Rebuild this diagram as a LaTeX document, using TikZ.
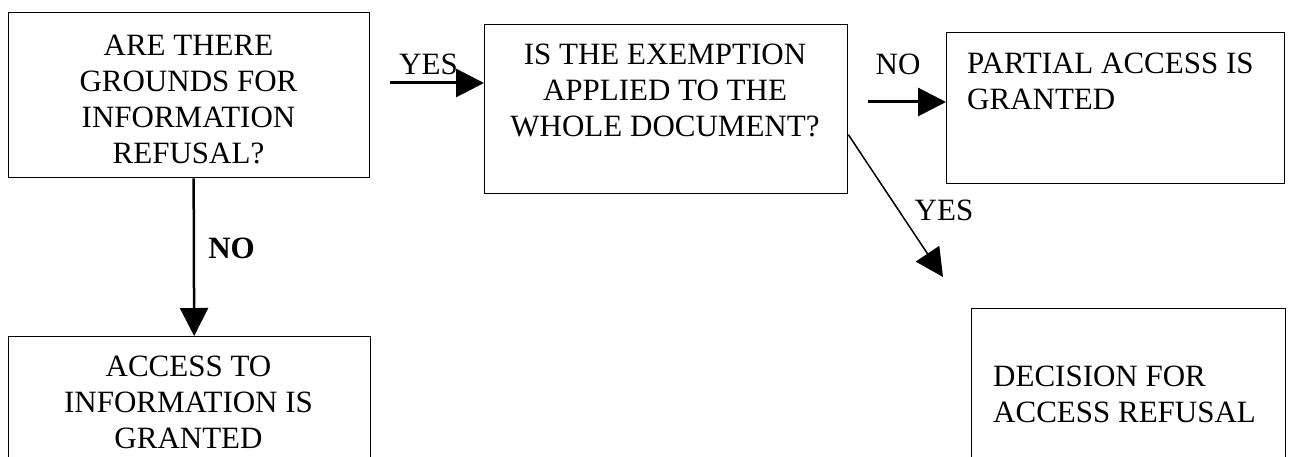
\documentclass[tikz,border=0pt]{standalone}
\usepackage{fontspec}
\setmainfont{Liberation Serif}
\usetikzlibrary{arrows.meta}
\begin{document}
\begin{tikzpicture}[x=1pt,y=-1pt,
  box/.style={draw, line width=1.3pt, inner sep=0pt, anchor=north west},
  txt/.style={font=\fontsize{31}{36}\selectfont, inner sep=0pt, align=center},
  lbl/.style={font=\fontsize{31}{36}\selectfont, inner sep=0pt},
  arr/.style={-{Triangle[length=28pt,width=28pt]}}
]
\clip (0,0) rectangle (1290,457);
\fill[white] (0,0) rectangle (1290,457);

% boxes
\node[box, minimum width=361pt, minimum height=165pt] (b1) at (8,12) {};
\node[box, minimum width=363pt, minimum height=169pt] (b2) at (484,24) {};
\node[box, minimum width=338pt, minimum height=151pt] (b3) at (946,32) {};
\node[box, minimum width=362pt, minimum height=140pt] (b5) at (8,336) {};
\node[box, minimum width=314pt, minimum height=170pt] (b4) at (971,308) {};

% texts
\node[txt] (t1) at (188.5,99) {ARE THERE\\GROUNDS FOR\\INFORMATION\\REFUSAL?};
\node[txt] (t2) at (665,90.5) {IS THE EXEMPTION\\APPLIED TO THE\\WHOLE DOCUMENT?};
\node[txt, align=left, anchor=west] (t3) at (967,81.5) {PARTIAL ACCESS IS\\GRANTED};
\node[txt] (t5) at (188.5,402.5) {ACCESS TO\\INFORMATION IS\\GRANTED};
\node[txt, align=left, anchor=west] (t4) at (993,394.5) {DECISION FOR\\ACCESS REFUSAL};

% labels
\node[lbl] (lyes1) at (428.5,64) {YES};
\node[lbl] (lno1) at (898,64.5) {NO};
\node[lbl] (lyes2) at (944,210.5) {YES};
\node[lbl, font=\fontsize{31}{36}\selectfont\bfseries] (lno2) at (231.5,248.5) {NO};

% connectors
\coordinate (ys) at (390,83);
\coordinate (ns) at (868,102);
\coordinate (dtip) at (943,277);
\draw[arr, line width=3pt] (ys) -- (b2.west |- ys);
\draw[arr, line width=3pt] (ns) -- (b3.west |- ns);
\draw[arr, line width=2.5pt] ([xshift=4.5pt]b1.south) -- ([xshift=4.5pt]b5.north);
\draw[arr, line width=1.5pt] ([yshift=-25.5pt]b2.east) -- (dtip);
\end{tikzpicture}
\end{document}
